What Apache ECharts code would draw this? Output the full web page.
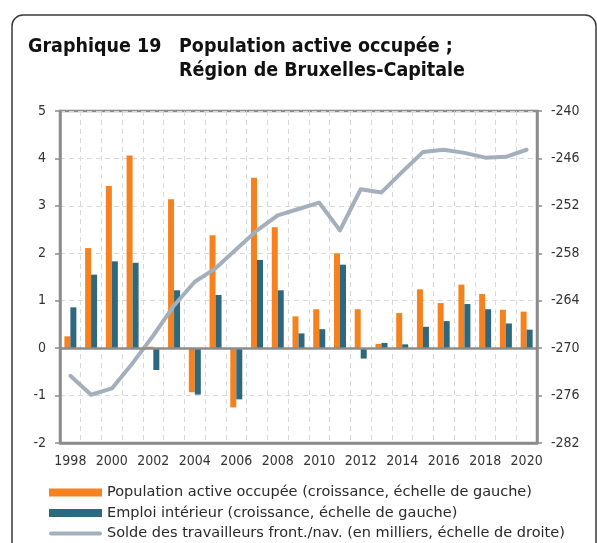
<!DOCTYPE html>
<html>
<head>
<meta charset="utf-8">
<script src="https://cdn.jsdelivr.net/npm/echarts@6/dist/echarts.min.js"></script>
<style>
  html, body { margin: 0; padding: 0; background: #fff; }
  #chart { width: 597px; height: 543px; }
</style>
</head>
<body>
<div id="chart"></div>
<script>
const years = ['1998', '1999', '2000', '2001', '2002', '2003', '2004', '2005', '2006', '2007', '2008', '2009',
  '2010', '2011', '2012', '2013', '2014', '2015', '2016', '2017', '2018', '2019', '2020'];
// croissance, %
const populationActive = [0.25, 2.11, 3.42, 4.06, 0.03, 3.14, -0.93, 2.38, -1.25, 3.59, 2.55, 0.67,
  0.82, 2.0, 0.82, 0.09, 0.74, 1.24, 0.95, 1.34, 1.14, 0.81, 0.77];
const emploiInterieur = [0.86, 1.55, 1.83, 1.80, -0.46, 1.22, -0.98, 1.12, -1.08, 1.86, 1.22, 0.31,
  0.40, 1.76, -0.22, 0.11, 0.08, 0.45, 0.57, 0.93, 0.82, 0.52, 0.39];
// en milliers
const soldeTravailleurs = [-273.5, -275.9, -275.1, -271.9, -268.4, -264.6, -261.6, -259.9, -257.5, -255.1, -253.2, -252.4,
  -251.6, -255.1, -249.9, -250.3, -247.7, -245.2, -244.9, -245.3, -245.9, -245.8, -244.9];

const seriesNames = [
  'Population active occupée (croissance, échelle de gauche)',
  'Emploi intérieur (croissance, échelle de gauche)',
  'Solde des travailleurs front./nav. (en milliers, échelle de droite)'
];

const font = "'DejaVu Sans Condensed', 'DejaVu Sans', sans-serif";
const axisGrey = '#8c8c8c';

const chart = echarts.init(document.getElementById('chart'));

chart.setOption({
  animation: false,
  textStyle: { fontFamily: font },
  title: [
    {
      text: 'Graphique 19',
      left: 28, top: 35, padding: 0,
      textStyle: { fontFamily: font, fontSize: 19.5, fontWeight: 'bold', color: '#111', lineHeight: 24 }
    },
    {
      text: 'Population active occupée ;\nRégion de Bruxelles-Capitale',
      left: 179, top: 35, padding: 0,
      textStyle: { fontFamily: font, fontSize: 19.5, fontWeight: 'bold', color: '#111', lineHeight: 24 }
    }
  ],
  graphic: [
    {
      type: 'rect',
      shape: { x: 12, y: 15, width: 584, height: 620, r: 11 },
      style: { fill: 'none', stroke: '#3a3a3a', lineWidth: 1.5 },
      silent: true
    }
  ],
  legend: {
    orient: 'vertical',
    left: 49, top: 485, padding: 0,
    itemWidth: 53, itemHeight: 8, itemGap: 5.5,
    textStyle: { fontFamily: "'DejaVu Sans', sans-serif", fontSize: 14.5, color: '#2a2a2a' },
    data: [
      { name: seriesNames[0], icon: 'rect' },
      { name: seriesNames[1], icon: 'rect' },
      { name: seriesNames[2], icon: 'path://M2,0H51A2,2 0 0 1 51,4H2A2,2 0 0 1 2,0Z' }
    ]
  },
  grid: {
    left: 60, right: 60, top: 111, bottom: 100,
    show: true, borderColor: axisGrey, borderWidth: 2.5, backgroundColor: 'transparent'
  },
  xAxis: {
    type: 'category',
    data: years,
    axisLine: { onZero: false, lineStyle: { color: axisGrey, width: 2.5 } },
    axisTick: { show: false },
    axisLabel: { interval: 1, margin: 11, fontSize: 14, color: '#333' },
    splitLine: { show: true, interval: 0, lineStyle: { color: '#d9d9d9', type: [5, 4], width: 1 } }
  },
  yAxis: [
    {
      type: 'value',
      min: -2, max: 5, interval: 1,
      axisLine: { show: true, lineStyle: { color: axisGrey, width: 2.5 } },
      axisTick: { show: true, length: 5, lineStyle: { color: axisGrey, width: 1.5 } },
      axisLabel: { margin: 14, fontSize: 14, color: '#333' },
      splitLine: { lineStyle: { color: '#d9d9d9', type: [5, 4], width: 1 } }
    },
    {
      type: 'value',
      min: -282, max: -240, interval: 6,
      position: 'right',
      axisLine: { show: true, lineStyle: { color: axisGrey, width: 2.5 } },
      axisTick: { show: true, length: 5, lineStyle: { color: axisGrey, width: 1.5 } },
      axisLabel: { margin: 14, fontSize: 14, color: '#333' },
      splitLine: { show: false }
    }
  ],
  series: [
    {
      name: seriesNames[0],
      type: 'bar',
      data: populationActive,
      barWidth: 6,
      barGap: '0%',
      itemStyle: { color: '#f5821f' },
      markLine: {
        silent: true,
        symbol: 'none',
        label: { show: false },
        lineStyle: { color: axisGrey, width: 2.5, type: 'solid' },
        data: [{ yAxis: 0 }]
      }
    },
    {
      name: seriesNames[1],
      type: 'bar',
      data: emploiInterieur,
      barWidth: 6,
      itemStyle: { color: '#2e687e' }
    },
    {
      name: seriesNames[2],
      type: 'line',
      yAxisIndex: 1,
      data: soldeTravailleurs,
      symbol: 'none',
      lineStyle: { color: '#a3afbd', width: 4, cap: 'round', join: 'round' },
      itemStyle: { color: '#a3afbd' },
      z: 3
    }
  ]
});
</script>
</body>
</html>
